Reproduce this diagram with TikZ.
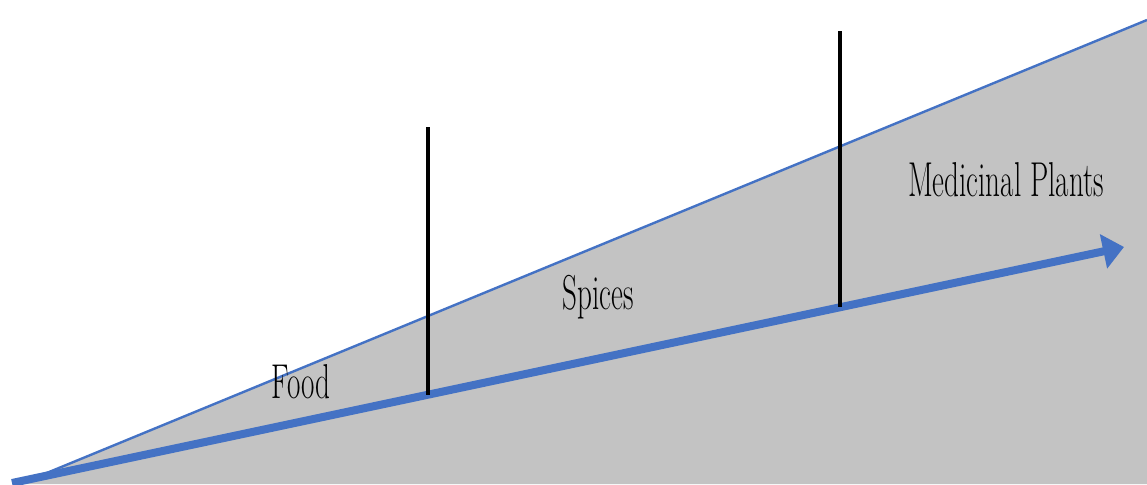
\documentclass[tikz,border=0pt]{standalone}
\usetikzlibrary{arrows.meta}
\definecolor{fieldblue}{HTML}{4472C4}
\definecolor{fieldgray}{HTML}{C3C3C3}

\begin{document}
\begin{tikzpicture}[
  x=1pt, y=1pt,
  stage/.style={
    font=\fontsize{49}{52}\selectfont, xscale=0.594, transform shape,
    anchor=base, inner sep=0pt
  },
  rim/.style={draw=fieldblue, line width=2.4pt},
  growth/.style={-{Triangle[length=21pt, width=34pt]}, draw=fieldblue, line width=8pt},
  divider/.style={draw=black, line width=3.5pt},
]
\useasboundingbox (0,0) rectangle (1147,484);

% Gray wedge under the upper edge
\coordinate (apex)   at (20,0);
\coordinate (corner) at (1147,0);
\coordinate (edgeend) at (1147,464);
\fill[fieldgray] (apex) -- (edgeend) -- (corner) -- cycle;
\draw[rim] (apex) -- (edgeend);

% Main arrow and the points where the dividers stand
\coordinate (tail) at (12,1);
\coordinate (tip)  at (1124,237);
\coordinate (footA) at (428,89);
\coordinate (footB) at (840,177);
\coordinate (topA)  at (428,357);
\coordinate (topB)  at (840,453);
\draw[growth] (tail) -- (tip);

% Dividers between the stages
\draw[divider] (footA) -- (topA);
\draw[divider] (footB) -- (topB);

% Stage labels
\node[stage] (food)      at (301,85)  {Food};
\node[stage] (spices)    at (598,174) {Spices};
\node[stage] (medicinal) at (1006,287) {Medicinal Plants};
\end{tikzpicture}
\end{document}
